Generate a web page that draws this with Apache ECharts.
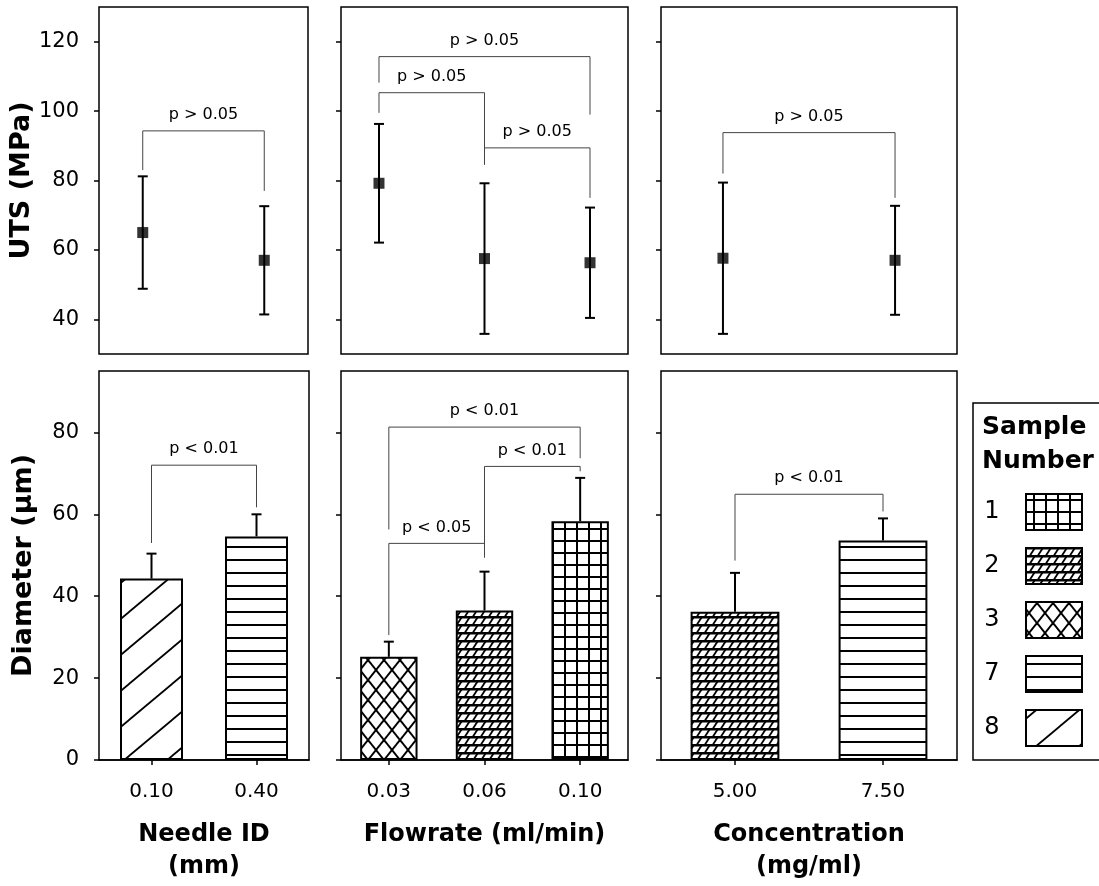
<!DOCTYPE html>
<html><head><meta charset="utf-8">
<script src="https://cdn.jsdelivr.net/npm/echarts@6/dist/echarts.min.js"></script>
<style>html,body{margin:0;padding:0;background:#fff}#c{width:1099px;height:886px}</style>
</head><body><div id="c"></div>
<script>
// ---------- data ----------
const needleLabels = ['0.10', '0.40'];
const flowLabels = ['0.03', '0.06', '0.10'];
const concLabels = ['5.00', '7.50'];

// UTS (MPa): mean and SD
const utsNeedle = [65.0, 57.0];
const utsNeedleErr = [16.2, 15.6];
const utsFlow = [79.2, 57.5, 56.3];
const utsFlowErr = [17.1, 21.7, 15.9];
const utsConc = [57.6, 57.0];
const utsConcErr = [21.8, 15.7];

// Diameter (um): mean and SD
const diaNeedle = [44.3, 54.6];
const diaNeedleErr = [6.1, 5.4];
const diaFlow = [25.2, 36.5, 58.3];
const diaFlowErr = [3.7, 9.5, 10.6];
const diaConc = [36.2, 53.6];
const diaConcErr = [9.5, 5.4];

// sample number of each bar
const sampleNeedle = ['8', '7'];
const sampleFlow = ['3', '2', '1'];
const sampleConc = ['2', '7'];
const legendSamples = ['1', '2', '3', '7', '8'];

const utsTicks = [40, 60, 80, 100, 120];
const diaTicks = [0, 20, 40, 60, 80];

// brackets: [fromIndex, toIndex, barLevel, leftLegEnd, rightLegEnd]
const utsNeedleBr = [[0, 1, 94.3, 83, 77]];
const utsNeedleBrText = ['p > 0.05'];
const utsFlowBr = [[0, 2, 115.7, 108.2, 99], [0, 1, 105.3, 99.5, 84.5], [1, 2, 89.4, 89.4, 75]];
const utsFlowBrText = ['p > 0.05', 'p > 0.05', 'p > 0.05'];
const utsConcBr = [[0, 1, 93.8, 82, 75]];
const utsConcBrText = ['p > 0.05'];
const diaNeedleBr = [[0, 1, 72, 53, 61.7]];
const diaNeedleBrText = ['p < 0.01'];
const diaFlowBr = [[0, 2, 81.3, 56.3, 73.7], [1, 2, 71.7, 49.4, 70.5], [0, 1, 52.9, 30.5, 52.9]];
const diaFlowBrText = ['p < 0.01', 'p < 0.01', 'p < 0.05'];
const diaConcBr = [[0, 1, 64.9, 48.7, 60.7]];
const diaConcBrText = ['p < 0.01'];

// ---------- patterns ----------
function tile(w, h, draw) {
  const c = document.createElement('canvas');
  c.width = w; c.height = h;
  const g = c.getContext('2d');
  g.fillStyle = '#fff'; g.fillRect(0, 0, w, h);
  g.strokeStyle = '#000'; g.fillStyle = '#000';
  draw(g, w, h);
  return c;
}
function seg(g, x1, y1, x2, y2, lw) { g.lineWidth = lw; g.beginPath(); g.moveTo(x1, y1); g.lineTo(x2, y2); g.stroke(); }
const patternCanvas = {
  '1': tile(12, 12, (g) => { g.fillRect(0, 0, 2, 12); g.fillRect(0, 0, 12, 2); }),
  '2': tile(8, 8, (g) => { g.fillRect(0, 0, 8, 2.5); for (const o of [-8, 0, 8]) seg(g, o + 1, 8.5, o + 5.5, 1.5, 1.8); }),
  '3': tile(16, 20, (g) => { seg(g, -16, -20, 32, 40, 2); seg(g, 32, -20, -16, 40, 2); }),
  '7': tile(8, 13, (g) => { g.fillRect(0, 0, 8, 2); }),
  '8': tile(43, 36, (g) => { for (const o of [-43, 0, 43]) seg(g, o - 43, 72, o + 86, -36, 1.8); })
};
const pat = (s) => ({ image: patternCanvas[s], repeat: 'repeat' });

// ---------- layout ----------
const FONT = "'DejaVu Sans', sans-serif";
const grids = [
  { left: 99, top: 7, width: 209, height: 347 },
  { left: 341, top: 7, width: 287, height: 347 },
  { left: 661, top: 7, width: 296, height: 347 },
  { left: 99, top: 371, width: 210, height: 389 },
  { left: 341, top: 371, width: 287, height: 389 },
  { left: 661, top: 371, width: 296, height: 389 }
].map(g => Object.assign(g, { show: true, borderColor: '#000', borderWidth: 1.5, backgroundColor: 'transparent' }));

const topSets = [
  { m: utsNeedle, e: utsNeedleErr, br: utsNeedleBr, bt: utsNeedleBrText },
  { m: utsFlow, e: utsFlowErr, br: utsFlowBr, bt: utsFlowBrText },
  { m: utsConc, e: utsConcErr, br: utsConcBr, bt: utsConcBrText }
];
const botSets = [
  { m: diaNeedle, e: diaNeedleErr, s: sampleNeedle, c: needleLabels, br: diaNeedleBr, bt: diaNeedleBrText, name: 'Needle ID\n(mm)' },
  { m: diaFlow, e: diaFlowErr, s: sampleFlow, c: flowLabels, br: diaFlowBr, bt: diaFlowBrText, name: 'Flowrate (ml/min)' },
  { m: diaConc, e: diaConcErr, s: sampleConc, c: concLabels, br: diaConcBr, bt: diaConcBrText, name: 'Concentration\n(mg/ml)' }
];

const xAxes = [], yAxes = [], series = [];
const tickStyle = { color: '#000', width: 1.5 };

topSets.forEach((d, i) => {
  xAxes.push({ gridIndex: i, type: 'value', min: 0.64, max: d.m.length + 0.36, show: false });
  yAxes.push({
    gridIndex: i, type: 'value', min: 30, max: 130,
    name: i === 0 ? 'UTS (MPa)' : '', nameLocation: 'middle', nameRotate: 90, nameGap: 62,
    nameTextStyle: { fontFamily: FONT, fontWeight: 'bold', fontSize: 27, color: '#000' },
    axisLine: { show: false },
    axisTick: { show: true, length: 5, customValues: utsTicks, lineStyle: tickStyle },
    axisLabel: { show: i === 0, customValues: utsTicks, margin: 20, fontFamily: FONT, fontSize: 21, color: '#000' },
    splitLine: { show: false }
  });
});
botSets.forEach((d, j) => {
  const i = j + 3;
  xAxes.push({
    gridIndex: i, type: 'category', data: d.c,
    name: d.name, nameLocation: 'middle', nameGap: 59,
    nameTextStyle: { fontFamily: FONT, fontWeight: 'bold', fontSize: 24, lineHeight: 32, color: '#000' },
    axisLine: { show: true, lineStyle: { color: '#000', width: 1.5 } },
    axisTick: { show: true, alignWithLabel: true, length: 5, lineStyle: tickStyle },
    axisLabel: { margin: 22, fontFamily: FONT, fontSize: 20, color: '#000' }
  });
  yAxes.push({
    gridIndex: i, type: 'value', min: 0, max: 95,
    name: j === 0 ? 'Diameter (\u00b5m)' : '', nameLocation: 'middle', nameRotate: 90, nameGap: 62,
    nameTextStyle: { fontFamily: FONT, fontWeight: 'bold', fontSize: 27, color: '#000' },
    axisLine: { show: false },
    axisTick: { show: true, length: 5, customValues: diaTicks, lineStyle: tickStyle },
    axisLabel: { show: j === 0, customValues: diaTicks, margin: 20, fontFamily: FONT, fontSize: 21, color: '#000' },
    splitLine: { show: false }
  });
});

function errBoth(params, api) {
  const x = api.value(0), m = api.value(1), e = api.value(2);
  const t = api.coord([x, m + e]), b = api.coord([x, m - e]);
  const st = { stroke: '#000', lineWidth: 2 }, hw = 5;
  return { type: 'group', children: [
    { type: 'line', shape: { x1: t[0], y1: t[1], x2: b[0], y2: b[1] }, style: st },
    { type: 'line', shape: { x1: t[0] - hw, y1: t[1], x2: t[0] + hw, y2: t[1] }, style: st },
    { type: 'line', shape: { x1: b[0] - hw, y1: b[1], x2: b[0] + hw, y2: b[1] }, style: st }
  ] };
}
function errUp(params, api) {
  const x = api.value(0), m = api.value(1), e = api.value(2);
  const t = api.coord([x, m + e]), b = api.coord([x, m]);
  const st = { stroke: '#000', lineWidth: 2 }, hw = 5;
  return { type: 'group', children: [
    { type: 'line', shape: { x1: t[0], y1: t[1], x2: b[0], y2: b[1] }, style: st },
    { type: 'line', shape: { x1: t[0] - hw, y1: t[1], x2: t[0] + hw, y2: t[1] }, style: st }
  ] };
}
function bracketRenderer(texts) {
  return function (params, api) {
    const x1 = api.value(0), x2 = api.value(1), y = api.value(2), yl = api.value(3), yr = api.value(4);
    const a = api.coord([x1, yl]), b = api.coord([x1, y]), c = api.coord([x2, y]), d = api.coord([x2, yr]);
    return { type: 'group', children: [
      { type: 'polyline', shape: { points: [a, b, c, d] }, style: { stroke: '#444', lineWidth: 1, fill: null } },
      { type: 'text', x: (b[0] + c[0]) / 2, y: b[1] - 16,
        style: { text: texts[params.dataIndex], fontFamily: FONT, fontSize: 16, fill: '#000', align: 'center', verticalAlign: 'middle' } }
    ] };
  };
}

topSets.forEach((d, i) => {
  series.push({
    type: 'custom', xAxisIndex: i, yAxisIndex: i, renderItem: errBoth, z: 2,
    data: d.m.map((v, k) => [k + 1, v, d.e[k]])
  });
  series.push({
    type: 'scatter', xAxisIndex: i, yAxisIndex: i, symbol: 'rect', symbolSize: 11, z: 3,
    itemStyle: { color: '#000' }, data: d.m.map((v, k) => [k + 1, v])
  });
  series.push({
    type: 'custom', xAxisIndex: i, yAxisIndex: i, renderItem: bracketRenderer(d.bt), z: 1,
    data: d.br.map(r => [r[0] + 1, r[1] + 1, r[2], r[3], r[4]])
  });
});
botSets.forEach((d, j) => {
  const i = j + 3;
  series.push({
    type: 'bar', xAxisIndex: i, yAxisIndex: i, barWidth: '60%', z: 1,
    data: d.m.map((v, k) => ({ value: v, itemStyle: { color: pat(d.s[k]), borderColor: '#000', borderWidth: 2 } }))
  });
  series.push({
    type: 'custom', xAxisIndex: i, yAxisIndex: i, renderItem: errUp, z: 2,
    data: d.m.map((v, k) => [k, v, d.e[k]])
  });
  series.push({
    type: 'custom', xAxisIndex: i, yAxisIndex: i, renderItem: bracketRenderer(d.bt), z: 2,
    data: d.br.map(r => [r[0], r[1], r[2], r[3], r[4]])
  });
});

// legend box (graphic)
const legendChildren = [
  { type: 'rect', shape: { x: 0, y: 0, width: 140, height: 357 }, style: { fill: '#fff', stroke: '#000', lineWidth: 1.5 } },
  { type: 'text', x: 9, y: 24, style: { text: 'Sample', fontFamily: FONT, fontWeight: 'bold', fontSize: 25, fill: '#000', verticalAlign: 'middle' } },
  { type: 'text', x: 9, y: 58, style: { text: 'Number', fontFamily: FONT, fontWeight: 'bold', fontSize: 25, fill: '#000', verticalAlign: 'middle' } }
];
legendSamples.forEach((s, k) => {
  const cy = 109 + k * 54;
  legendChildren.push({ type: 'text', x: 19, y: cy, style: { text: s, fontFamily: FONT, fontSize: 24, fill: '#000', align: 'center', verticalAlign: 'middle' } });
  legendChildren.push({ type: 'rect', shape: { x: 53, y: cy - 18, width: 56, height: 36 }, style: { fill: pat(s), stroke: '#000', lineWidth: 2 } });
});

const chart = echarts.init(document.getElementById('c'), null, { renderer: 'canvas' });
chart.setOption({
  animation: false,
  backgroundColor: '#fff',
  textStyle: { fontFamily: FONT },
  grid: grids,
  xAxis: xAxes,
  yAxis: yAxes,
  series: series,
  graphic: [{ type: 'group', x: 973, y: 403, children: legendChildren }]
});
</script>
</body></html>
